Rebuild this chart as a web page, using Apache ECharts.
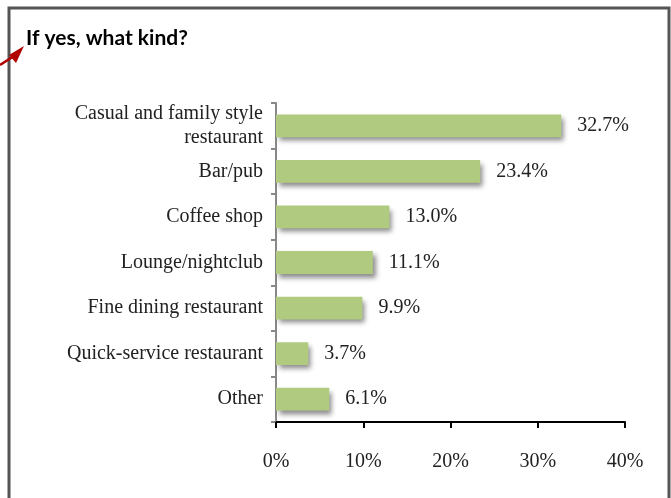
<!DOCTYPE html>
<html>
<head>
<meta charset="utf-8">
<script src="https://cdn.jsdelivr.net/npm/echarts@6/dist/echarts.min.js"></script>
<style>
  html, body { margin: 0; padding: 0; background: #fff; }
  #myChart { width: 671px; height: 498px; }
</style>
</head>
<body>
<div id="myChart"></div>
<script>
// 数据
var categories = ['Casual and family style\nrestaurant', 'Bar/pub', 'Coffee shop', 'Lounge/nightclub',
  'Fine dining restaurant', 'Quick-service restaurant', 'Other'];
var values = [32.7, 23.4, 13.0, 11.1, 9.9, 3.7, 6.1];
var xTicks = [0, 10, 20, 30, 40];

var serif = '"Liberation Serif", "DejaVu Serif", serif';

var option = {
  animation: false,
  title: {
    text: 'If yes, what kind?',
    left: 21,
    top: 23,
    textStyle: {
      fontFamily: 'Lato, "Open Sans", sans-serif',
      fontSize: 21,
      fontWeight: 'bold',
      color: '#000'
    }
  },
  grid: {
    left: 276,
    right: 46,
    top: 103,
    bottom: 76
  },
  xAxis: {
    type: 'value',
    min: xTicks[0],
    max: xTicks[xTicks.length - 1],
    interval: 10,
    splitLine: { show: false },
    axisLine: { show: true, lineStyle: { color: '#000', width: 2 } },
    axisTick: { show: true, length: 6, lineStyle: { color: '#000', width: 2 } },
    axisLabel: {
      margin: 30,
      formatter: '{value}%',
      fontFamily: serif,
      fontSize: 20,
      color: '#222'
    }
  },
  yAxis: {
    type: 'category',
    data: categories,
    inverse: true,
    axisLine: { show: true, lineStyle: { color: '#888', width: 2 } },
    axisTick: { show: true, length: 5, lineStyle: { color: '#888', width: 2 } },
    axisLabel: {
      margin: 13,
      fontFamily: serif,
      fontSize: 20,
      lineHeight: 24,
      color: '#222',
      align: 'right'
    }
  },
  series: [
    {
      type: 'bar',
      data: values,
      barWidth: '50%',
      itemStyle: {
        color: '#B0CB80',
        shadowColor: 'rgba(0,0,0,0.45)',
        shadowBlur: 5,
        shadowOffsetX: 3,
        shadowOffsetY: 4
      },
      label: {
        show: true,
        position: 'right',
        distance: 16,
        formatter: function (p) { return p.value.toFixed(1) + '%'; },
        fontFamily: serif,
        fontSize: 20,
        color: '#222'
      }
    }
  ],
  graphic: [
    {
      type: 'rect',
      shape: { x: 9, y: 8, width: 660, height: 500 },
      style: { fill: null, stroke: '#555', lineWidth: 3 },
      silent: true
    },
    // 红色箭头
    {
      type: 'line',
      shape: { x1: 0, y1: 65, x2: 14, y2: 56 },
      style: { stroke: '#B00000', lineWidth: 2.5 }
    },
    {
      type: 'polygon',
      shape: { points: [[24, 46], [9, 55], [16, 63]] },
      style: { fill: '#B00000' }
    }
  ]
};

var myChart = echarts.init(document.getElementById('myChart'));
myChart.setOption(option);
</script>
</body>
</html>
